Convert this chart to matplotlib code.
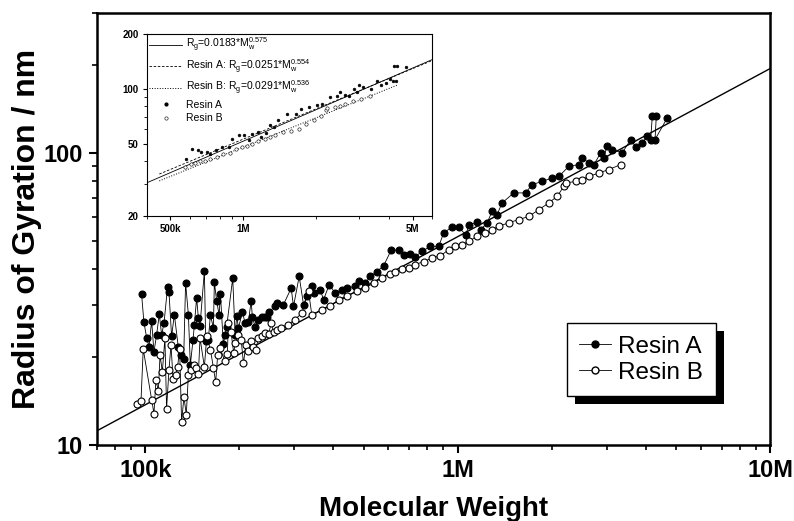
import matplotlib
matplotlib.use("Agg")
import matplotlib.pyplot as plt
import numpy as np
from matplotlib.ticker import LogLocator, NullFormatter, FixedLocator, FixedFormatter
from matplotlib.lines import Line2D
from matplotlib.patches import Rectangle

plt.rcParams['font.family'] = ['Liberation Sans Narrow', 'Liberation Sans', 'DejaVu Sans']

# Resin A: molecular weight (k) and radius of gyration (nm)
mw_a = [97.3, 99.0, 101, 102.8, 104.8, 106.6, 108.7, 110.9, 112.8, 114.8,
        117.9, 119.1, 121.4, 123.9, 127.5, 130.1, 132.7, 134.6, 137.4, 139.4,
        142.2, 143.6, 146.0, 147.9, 149.7, 154.6, 156.1, 159.2, 161.6, 165.2,
        166.4, 169.3, 172.3, 174.0, 177.8, 180.0, 182.2, 190.5, 193.9, 196.2,
        198.7, 204.6, 208.7, 213.8, 218.2, 220.3, 224.7, 229.1, 236.0, 242.0,
        244.9, 249.2, 260.5, 263.6, 276.9, 293.1, 298.1, 310.9, 321.0, 328.8,
        341.2, 345.5, 362.9, 372.0, 387.9, 405.5, 425.7, 441.6, 470.0, 481.6,
        505.9, 525.0, 551.2, 579.2, 613.1, 647.0, 671.3, 705.3, 731.8, 768.3,
        817.5, 869.1, 901.7, 958.8, 1007, 1059, 1090, 1153, 1183, 1241,
        1288, 1336, 1387, 1512, 1648, 1730, 1863, 2005, 2107, 2269,
        2442, 2502, 2630, 2729, 2868, 2938, 3000, 3124, 3362, 3577,
        3712, 3896, 4043, 4146, 4196, 4322, 4280, 4686]
rg_a = [32.9, 26.3, 23.3, 21.7, 26.6, 20.8, 23.8, 28.0, 23.8, 26.1,
        34.8, 33.3, 23.5, 27.9, 21.7, 20.3, 19.7, 35.8, 27.9, 18.8,
        22.9, 25.8, 31.8, 27.2, 25.6, 39.4, 22.6, 22.9, 27.9, 25.1,
        36.0, 31.0, 27.9, 32.8, 22.1, 23.8, 25.4, 37.2, 23.8, 27.7,
        25.1, 28.5, 26.1, 26.4, 31.0, 27.3, 25.4, 26.8, 27.5, 27.3,
        27.5, 28.6, 29.8, 30.6, 30.2, 34.4, 29.8, 37.7, 30.2, 32.2,
        34.9, 33.1, 34.0, 31.4, 35.3, 33.1, 34.0, 34.4, 34.9, 36.3,
        35.8, 37.7, 39.2, 41.0, 46.5, 46.3, 44.7, 45.1, 44.1, 45.9,
        47.8, 47.8, 53.1, 55.7, 55.7, 52.4, 56.7, 57.7, 54.5, 57.4,
        62.9, 61.3, 67.3, 72.8, 72.8, 77.7, 79.7, 81.9, 82.9, 89.8,
        91.0, 95.9, 92.2, 91.0, 99.8, 95.9, 105.1, 102.4, 99.8, 110.8,
        104.6, 108.0, 113.7, 110.8, 133.9, 133.9, 110.8, 131.5]

# Resin B: molecular weight (k) and radius of gyration (nm)
mw_b = [94.3, 96.9, 98.5, 104.8, 106.6, 108.2, 110.1, 111.5, 113.4, 115.6,
        117.0, 119.1, 120.9, 122.7, 125.1, 126.9, 128.8, 130.7, 133.0, 135.3,
        137.4, 140.1, 142.8, 145.8, 147.9, 149.7, 154.6, 157.3, 161.6, 165.2,
        168.0, 170.5, 173.6, 180.0, 183.1, 184.5, 188.2, 191.9, 193.9, 198.7,
        202.7, 206.2, 209.7, 213.8, 218.2, 221.9, 225.7, 230.3, 236.0, 240.8,
        248.0, 253.0, 257.4, 263.6, 270.9, 287.3, 300.4, 316.8, 333.0, 341.2,
        367.3, 390.8, 415.6, 441.6, 475.6, 505.9, 538.0, 572.1, 608.6, 631.4,
        663.1, 696.5, 731.8, 778.0, 827.3, 880.3, 935.9, 983.2, 1032, 1085,
        1153, 1227, 1288, 1353, 1457, 1569, 1689, 1818, 1957, 2082,
        2187, 2214, 2384, 2502, 2630, 2831, 3048, 3323]
rg_b = [13.8, 14.1, 21.3, 14.3, 12.8, 16.7, 15.3, 20.3, 17.8, 23.2,
        13.3, 18.1, 22.0, 16.8, 17.4, 18.5, 21.3, 12.0, 14.6, 12.7,
        17.4, 18.1, 18.7, 18.4, 17.5, 23.2, 18.5, 23.5, 21.2, 18.4,
        16.4, 20.3, 21.4, 19.3, 20.4, 26.1, 24.3, 20.6, 22.3, 23.8,
        22.9, 19.0, 22.0, 20.9, 22.7, 21.7, 21.2, 23.2, 23.5, 24.1,
        23.9, 26.1, 24.3, 24.8, 25.2, 25.8, 26.8, 28.2, 33.5, 27.9,
        29.0, 29.8, 31.4, 32.4, 33.5, 34.4, 35.8, 37.2, 38.5, 39.2,
        39.9, 40.3, 41.4, 42.4, 43.6, 44.4, 46.5, 47.8, 48.4, 49.7,
        51.7, 53.1, 54.5, 55.9, 57.6, 59.0, 60.5, 63.8, 67.3, 70.9,
        76.7, 78.7, 79.7, 80.8, 82.9, 85.2, 87.5, 91.0]

# power-law fits  Rg = k * Mw^a
fit_all = (0.0183, 0.575)
fit_a = (0.0251, 0.554)
fit_b = (0.0291, 0.536)

main_xticks = [1e5, 1e6, 1e7]
main_xlabels = ['100k', '1M', '10M']
main_yticks = [10, 100]
main_ylabels = ['10', '100']
inset_xticks = [5e5, 1e6, 5e6]
inset_xlabels = ['500k', '1M', '5M']
inset_yticks = [20, 50, 100, 200]
inset_ylabels = ['20', '50', '100', '200']

mwa = np.array(mw_a) * 1e3
mwb = np.array(mw_b) * 1e3
rga = np.array(rg_a)
rgb = np.array(rg_b)

fig = plt.figure(figsize=(7.94, 5.21), dpi=100)
ax = fig.add_axes([0.122, 0.1459, 0.848, 0.829])

ax.plot(mwa, rga, '-', color='black', lw=0.6, marker='o', ms=5.0,
        mfc='black', mec='black', mew=0.8, zorder=3)
ax.plot(mwb, rgb, '-', color='black', lw=0.6, marker='o', ms=5.0,
        mfc='white', mec='black', mew=0.8, zorder=3)
xf = np.logspace(np.log10(7e4), 7, 60)
ax.plot(xf, fit_all[0] * xf ** fit_all[1], '-', color='black', lw=1.0, zorder=2)

ax.set_xscale('log')
ax.set_yscale('log')
ax.set_xlim(7e4, 1e7)
ax.set_ylim(10, 300)
ax.xaxis.set_major_locator(FixedLocator(main_xticks))
ax.xaxis.set_major_formatter(FixedFormatter(main_xlabels))
ax.yaxis.set_major_locator(FixedLocator(main_yticks))
ax.yaxis.set_major_formatter(FixedFormatter(main_ylabels))
for a in (ax.xaxis, ax.yaxis):
    a.set_minor_locator(LogLocator(base=10, subs=np.arange(2, 10)))
    a.set_minor_formatter(NullFormatter())
ax.tick_params(which='major', direction='out', length=6, width=1.5,
               labelsize=17, pad=4)
ax.tick_params(which='minor', direction='out', length=3.5, width=1.2)
for lab in ax.get_xticklabels() + ax.get_yticklabels():
    lab.set_fontweight('bold')
for s in ax.spines.values():
    s.set_linewidth(1.8)
ax.set_xlabel('Molecular Weight', fontsize=20, fontweight='bold', labelpad=10)
ax.set_ylabel('Radius of Gyration / nm', fontsize=23, fontweight='bold', labelpad=1)

handles = [Line2D([], [], color='black', lw=0.6, marker='o', ms=5.0, mfc='black', mec='black'),
           Line2D([], [], color='black', lw=0.6, marker='o', ms=5.0, mfc='white', mec='black')]
leg = ax.legend(handles, ['Resin A', 'Resin B'], loc='upper left',
                bbox_to_anchor=(0.698, 0.282), borderaxespad=0, fontsize=17.5,
                handlelength=1.3, handletextpad=0.3, labelspacing=0.15,
                borderpad=0.52, fancybox=False, framealpha=1, edgecolor='black')
leg.get_frame().set_linewidth(1.0)
leg.set_zorder(6)

fig.canvas.draw()
bb = leg.get_window_extent().transformed(ax.transAxes.inverted())
dx = 8 / (ax.bbox.width)
dy = 8 / (ax.bbox.height)
ax.add_patch(Rectangle((bb.x0 + dx, bb.y0 - dy), bb.width, bb.height,
                       transform=ax.transAxes, facecolor='black',
                       edgecolor='none', zorder=5, clip_on=False))

# inset
ins = fig.add_axes([0.185, 0.5854, 0.359, 0.3493])
sel_a = mwa >= 5.6e5
sel_b = mwb >= 5.6e5
ins.plot(mwa[sel_a], rga[sel_a], 'o', ms=2.0, mfc='black', mec='black', mew=0.4, zorder=3)
ins.plot(mwb[sel_b], rgb[sel_b], 'o', ms=2.4, mfc='white', mec='black', mew=0.4, zorder=3)
xi = np.logspace(np.log10(4e5), np.log10(6e6), 40)
ins.plot(xi, fit_all[0] * xi ** fit_all[1], '-', color='black', lw=0.6)
xa = np.logspace(np.log10(4.5e5), np.log10(6e6), 40)
ins.plot(xa, fit_a[0] * xa ** fit_a[1], '--', color='black', lw=0.6, dashes=(3, 2))
xb = np.logspace(np.log10(4.5e5), np.log10(4.3e6), 40)
ins.plot(xb, fit_b[0] * xb ** fit_b[1], ':', color='black', lw=0.7)
ins.set_xscale('log')
ins.set_yscale('log')
ins.set_xlim(4e5, 6e6)
ins.set_ylim(20, 200)
ins.xaxis.set_major_locator(FixedLocator(inset_xticks))
ins.xaxis.set_major_formatter(FixedFormatter(inset_xlabels))
ins.yaxis.set_major_locator(FixedLocator(inset_yticks))
ins.yaxis.set_major_formatter(FixedFormatter(inset_ylabels))
for a in (ins.xaxis, ins.yaxis):
    a.set_minor_locator(LogLocator(base=10, subs=np.arange(2, 10)))
    a.set_minor_formatter(NullFormatter())
ins.tick_params(which='major', direction='out', length=3, width=0.8, labelsize=7, pad=3)
ins.tick_params(which='minor', direction='out', length=2, width=0.6)
for lab in ins.get_xticklabels() + ins.get_yticklabels():
    lab.set_fontweight('bold')
for s in ins.spines.values():
    s.set_linewidth(0.8)

ih = [Line2D([], [], color='black', lw=0.6, ls='-'),
      Line2D([], [], color='black', lw=0.6, ls='--', dashes=(3, 2)),
      Line2D([], [], color='black', lw=0.7, ls=':'),
      Line2D([], [], ls='none', marker='o', ms=2.0, mfc='black', mec='black'),
      Line2D([], [], ls='none', marker='o', ms=2.4, mfc='white', mec='black', mew=0.4)]
il = [r'R$_\mathregular{g}$=0.0183*M$_\mathregular{w}^\mathregular{0.575}$',
      r'Resin A: R$_\mathregular{g}$=0.0251*M$_\mathregular{w}^\mathregular{0.554}$',
      r'Resin B: R$_\mathregular{g}$=0.0291*M$_\mathregular{w}^\mathregular{0.536}$',
      'Resin A', 'Resin B']
ins.legend(ih, il, loc='upper left', frameon=False, fontsize=7.5,
           handlelength=3.2, handletextpad=0.4, labelspacing=0.3,
           borderpad=0.2, borderaxespad=0.0)

fig.savefig('out.png', dpi=100)
